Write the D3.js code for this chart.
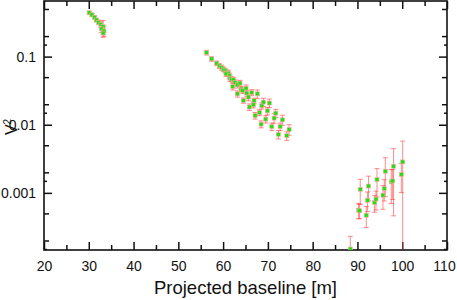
<!DOCTYPE html>
<html>
<head>
<meta charset="utf-8">
<script src="https://cdn.jsdelivr.net/npm/d3@7"></script>
<style>
  body { margin: 0; background: #fff; }
  svg { font-family: "Liberation Sans", Arial, sans-serif; }
  .axis text { font-size: 14px; fill: #111; }
  .axis line { stroke: #111; stroke-width: 1.5; }
  .axis path { display: none; }
</style>
</head>
<body>
<div id="chart"></div>
<script>
// Visibility data: projected baseline [m], V^2 and its error
const baseline = [
  30.1, 30.7, 31.3, 31.7, 32.2, 32.7, 33.2, 32.8, 33.4, 33.2,
  56.3, 57.45, 58.57, 59.15, 59.69, 60.04, 60.43, 60.81, 61.16, 60.65,
  61.39, 61.54, 61.92, 62.28, 62.66, 62.15, 63.18, 63.78, 64.0, 64.38,
  63.18, 65.12, 65.28, 65.64, 66.4, 64.52, 66.91, 67.65, 66.76, 65.86,
  68.64, 69.0, 67.14, 68.1, 69.89, 70.34, 68.48, 69.53, 70.87, 71.39,
  71.77, 72.73, 73.24, 72.35, 74.23, 74.74,
  88.4, 90.25, 90.47, 90.63, 91.97, 92.26, 92.48, 93.83, 94.14, 94.36,
  95.7, 95.99, 96.22, 97.56, 97.85, 98.07, 99.8, 100.1
];
const v2 = [
  0.44, 0.41, 0.378, 0.344, 0.319, 0.298, 0.275, 0.255, 0.238, 0.222,
  0.1145, 0.0925, 0.080, 0.073, 0.069, 0.0654, 0.0624, 0.0591, 0.0571, 0.0558,
  0.0522, 0.0483, 0.0467, 0.0456, 0.0416, 0.0364, 0.0385, 0.0408, 0.0334, 0.0318,
  0.0284, 0.0344, 0.0291, 0.0255, 0.0297, 0.0227, 0.0225, 0.0284, 0.0196, 0.0182,
  0.019, 0.0215, 0.0136, 0.0151, 0.016, 0.0208, 0.0102, 0.0121, 0.0094, 0.0125,
  0.0148, 0.0094, 0.0118, 0.0072, 0.0069, 0.0085,
  0.00015, 0.00056, 0.000545, 0.00113, 0.00047, 0.00078, 0.00126, 0.00072, 0.00081, 0.00157,
  0.000925, 0.00116, 0.00208, 0.00145, 0.0015, 0.00246, 0.00186, 0.00285
];
const v2Err = [
  0.02, 0.02, 0.02, 0.02, 0.025, 0.03, 0.065, 0.03, 0.04, 0.03,
  0.009, 0.007, 0.006, 0.006, 0.006, 0.005, 0.005, 0.005, 0.005, 0.005,
  0.005, 0.005, 0.004, 0.004, 0.004, 0.004, 0.004, 0.004, 0.003, 0.003,
  0.003, 0.004, 0.003, 0.003, 0.003, 0.002, 0.002, 0.004, 0.002, 0.002,
  0.002, 0.003, 0.0015, 0.0015, 0.002, 0.003, 0.0012, 0.0015, 0.0012, 0.002,
  0.002, 0.0012, 0.002, 0.001, 0.001, 0.0015,
  0.00008, 0.00014, 0.00013, 0.00045, 0.00016, 0.00025, 0.0005, 0.0002, 0.00025, 0.0007,
  0.00035, 0.0004, 0.0012, 0.00075, 0.0007, 0.002, 0.00085, 0.0029
];

// Axis ticks
const xMajor = [20, 30, 40, 50, 60, 70, 80, 90, 100, 110];
const xMinor = [25, 35, 45, 55, 65, 75, 85, 95, 105];
const yMajor = [0.1, 0.01, 0.001];
const yMajorLabels = ["0.1", "0.01", "0.001"];
const yMinor = [0.5, 0.2, 0.05, 0.02, 0.005, 0.002, 0.0005, 0.0002];
const yTiny = [0.15, 0.015, 0.0015, 0.00015];

const margin = { top: 1, right: 10, bottom: 50, left: 44 };
const width = 457 - margin.left - margin.right;
const height = 300 - margin.top - margin.bottom;

const svg = d3.select("#chart")
  .append("svg")
  .attr("width", width + margin.left + margin.right)
  .attr("height", height + margin.top + margin.bottom)
  .append("g")
  .attr("transform", `translate(${margin.left},${margin.top})`);

const x = d3.scaleLinear().domain([20, 110]).range([0, width]);
const y = d3.scaleLog().domain([1.45e-4, 0.655]).range([height, 0]);

// Axes: ticks pointing inward on all four sides
function addAxis(axis, transform) {
  return svg.append("g")
    .attr("class", "axis")
    .attr("transform", transform)
    .call(axis.tickSizeOuter(0));
}

const xAxisGroup = addAxis(d3.axisBottom(x).tickValues(xMajor).tickSize(-8).tickPadding(11), `translate(0,${height})`);
// last label sits a bit inside the edge, as in the original
xAxisGroup.selectAll("text").filter(d => d === 110).attr("dx", -3);
addAxis(d3.axisBottom(x).tickValues(xMinor).tickSize(-5).tickFormat(""), `translate(0,${height})`);
addAxis(d3.axisTop(x).tickValues(xMajor).tickSize(-8).tickFormat(""), "translate(0,0)");
addAxis(d3.axisTop(x).tickValues(xMinor).tickSize(-5).tickFormat(""), "translate(0,0)");

addAxis(d3.axisLeft(y).tickValues(yMajor).tickSize(-8).tickPadding(8)
  .tickFormat((d, i) => yMajorLabels[i]), "translate(0,0)");
addAxis(d3.axisLeft(y).tickValues(yMinor).tickSize(-5).tickFormat(""), "translate(0,0)");
addAxis(d3.axisLeft(y).tickValues(yTiny).tickSize(-3).tickFormat(""), "translate(0,0)");
addAxis(d3.axisRight(y).tickValues(yMajor).tickSize(-8).tickFormat(""), `translate(${width},0)`);
addAxis(d3.axisRight(y).tickValues(yMinor).tickSize(-5).tickFormat(""), `translate(${width},0)`);
addAxis(d3.axisRight(y).tickValues(yTiny).tickSize(-3).tickFormat(""), `translate(${width},0)`);

// Frame
svg.append("rect")
  .attr("width", width)
  .attr("height", height)
  .attr("fill", "none")
  .attr("stroke", "#111")
  .attr("stroke-width", 1.6);

// Axis titles
svg.append("text")
  .attr("x", width / 2)
  .attr("y", height + 44)
  .attr("text-anchor", "middle")
  .style("font-size", "18.5px")
  .style("fill", "#111")
  .text("Projected baseline [m]");

const yTitle = svg.append("text")
  .attr("transform", `translate(${17 - margin.left},126) rotate(-90)`)
  .attr("text-anchor", "middle")
  .style("font-size", "16px")
  .style("fill", "#111");
yTitle.append("tspan").text("V");
yTitle.append("tspan").attr("dy", -6).style("font-size", "10px").text("2");

// Data
const points = baseline.map((b, i) => ({ b, v: v2[i], e: v2Err[i] }));

svg.append("clipPath").attr("id", "plot-clip")
  .append("rect").attr("width", width).attr("height", height);

const plot = svg.append("g").attr("clip-path", "url(#plot-clip)");

const lo = d => Math.max(d.v - d.e, 1e-6);
const hi = d => d.v + d.e;

const bars = plot.selectAll("g.err")
  .data(points)
  .enter()
  .append("g")
  .attr("class", "err")
  .attr("stroke", "#ff4040")
  .attr("stroke-opacity", 0.6)
  .attr("stroke-width", 1);

bars.append("line")
  .attr("x1", d => x(d.b)).attr("x2", d => x(d.b))
  .attr("y1", d => y(lo(d))).attr("y2", d => y(hi(d)));
bars.append("line")
  .attr("x1", d => x(d.b) - 2.5).attr("x2", d => x(d.b) + 2.5)
  .attr("y1", d => y(hi(d))).attr("y2", d => y(hi(d)));
bars.append("line")
  .attr("x1", d => x(d.b) - 2.5).attr("x2", d => x(d.b) + 2.5)
  .attr("y1", d => y(lo(d))).attr("y2", d => y(lo(d)));

plot.selectAll("rect.marker")
  .data(points)
  .enter()
  .append("rect")
  .attr("class", "marker")
  .attr("x", d => x(d.b) - 2)
  .attr("y", d => y(d.v) - 2)
  .attr("width", 4)
  .attr("height", 4)
  .attr("fill", "#22e010")
  .attr("stroke", "#ffa8a8")
  .attr("stroke-width", 0.6);
</script>
</body>
</html>
